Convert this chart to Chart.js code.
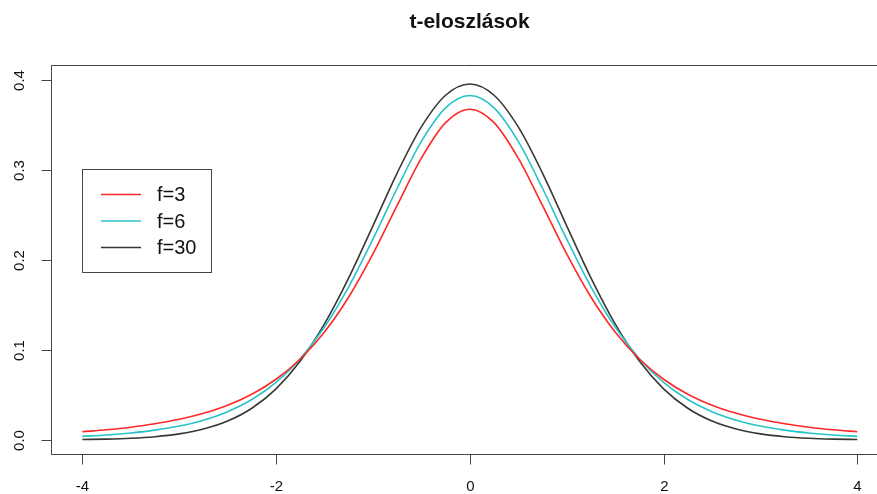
<!DOCTYPE html>
<html>
<head>
<meta charset="utf-8">
<script src="https://cdn.jsdelivr.net/npm/chart.js@4/dist/chart.umd.min.js"></script>
<style>
  html, body { margin: 0; padding: 0; background: #fff; overflow: hidden; }
  canvas { display: block; }
</style>
</head>
<body>
<canvas id="c" width="877" height="494"></canvas>
<script>
const xs = [-4, -3.75, -3.5, -3.25, -3, -2.75, -2.5, -2.25, -2, -1.75, -1.5, -1.25, -1, -0.75, -0.5, -0.25,
  0, 0.25, 0.5, 0.75, 1, 1.25, 1.5, 1.75, 2, 2.25, 2.5, 2.75, 3, 3.25, 3.5, 3.75, 4];
const f3 = [0.00916, 0.01136, 0.01422, 0.01798, 0.02297, 0.02965, 0.03866, 0.05089, 0.06751, 0.09000, 0.12002, 0.15891, 0.20675, 0.26064, 0.31318, 0.35270,
  0.36755, 0.35270, 0.31318, 0.26064, 0.20675, 0.15891, 0.12002, 0.09000, 0.06751, 0.05089, 0.03866, 0.02965, 0.02297, 0.01798, 0.01422, 0.01136, 0.00916];
const f6 = [0.00406, 0.00560, 0.00780, 0.01095, 0.01549, 0.02205, 0.03149, 0.04497, 0.06403, 0.09038, 0.12555, 0.17026, 0.22315, 0.27971, 0.33177, 0.36910,
  0.38273, 0.36910, 0.33177, 0.27971, 0.22315, 0.17026, 0.12555, 0.09038, 0.06403, 0.04497, 0.03149, 0.02205, 0.01549, 0.01095, 0.00780, 0.00560, 0.00406];
const f30 = [0.00052, 0.00102, 0.00196, 0.00369, 0.00678, 0.01213, 0.02106, 0.03530, 0.05685, 0.08769, 0.12896, 0.18011, 0.23799, 0.29664, 0.34787, 0.38307,
  0.39563, 0.38307, 0.34787, 0.29664, 0.23799, 0.18011, 0.12896, 0.08769, 0.05685, 0.03530, 0.02106, 0.01213, 0.00678, 0.00369, 0.00196, 0.00102, 0.00052];
const labels = ['f=3', 'f=6', 'f=30'];
const xTicks = [-4, -2, 0, 2, 4];
const yTicks = [0, 0.1, 0.2, 0.3, 0.4];
const title = 't-eloszlások';

const colors = ['rgb(255,40,40)', 'rgb(40,195,200)', 'rgb(55,55,55)'];
const pts = ys => xs.map((x, i) => ({ x: x, y: ys[i] }));

// R style box (right side is off the page), ticks and legend
const axesPlugin = {
  id: 'rAxes',
  afterDraw(chart) {
    const ctx = chart.ctx;
    const a = chart.chartArea;
    const sx = chart.scales.x, sy = chart.scales.y;
    const L = Math.round(a.left) + 0.5, T = Math.round(a.top) + 0.5, B = Math.round(a.bottom) + 0.5;
    const R = chart.width;
    ctx.save();
    ctx.strokeStyle = '#444';
    ctx.lineWidth = 1;
    ctx.beginPath();
    ctx.moveTo(L, T); ctx.lineTo(R, T);
    ctx.moveTo(L, T); ctx.lineTo(L, B);
    ctx.moveTo(L, B); ctx.lineTo(R, B);
    ctx.stroke();

    ctx.fillStyle = '#111';
    ctx.font = '15px "Liberation Sans", Arial, sans-serif';
    ctx.textAlign = 'center';
    ctx.textBaseline = 'middle';
    xTicks.forEach(v => {
      const px = Math.round(sx.getPixelForValue(v)) + 0.5;
      ctx.beginPath();
      ctx.moveTo(px, B);
      ctx.lineTo(px, B + 10);
      ctx.stroke();
      ctx.fillText(String(v), px, 487);
    });
    yTicks.forEach(v => {
      const py = Math.round(sy.getPixelForValue(v)) + 0.5;
      ctx.beginPath();
      ctx.moveTo(L, py);
      ctx.lineTo(L - 10, py);
      ctx.stroke();
      ctx.save();
      ctx.translate(20, py);
      ctx.rotate(-Math.PI / 2);
      ctx.fillText(v.toFixed(1), 0, 0);
      ctx.restore();
    });

    ctx.font = 'bold 21px "Liberation Sans", Arial, sans-serif';
    ctx.fillText(title, 469.5, 22);

    ctx.strokeStyle = '#444';
    ctx.strokeRect(82.5, 169.5, 129, 103);
    ctx.font = '20px "Liberation Sans", Arial, sans-serif';
    ctx.textAlign = 'left';
    const rows = [194.5, 221, 247.5];
    chart.data.datasets.forEach((ds, i) => {
      ctx.strokeStyle = ds.borderColor;
      ctx.lineWidth = 1.4;
      ctx.beginPath();
      ctx.moveTo(101, rows[i]);
      ctx.lineTo(141, rows[i]);
      ctx.stroke();
      ctx.fillText(ds.label, 157, rows[i] + 1);
    });
    ctx.restore();
  }
};

new Chart(document.getElementById('c'), {
  type: 'line',
  data: {
    datasets: labels.map((l, i) => ({
      label: l,
      data: pts([f3, f6, f30][i]),
      borderColor: colors[i],
      borderWidth: 1.6,
      pointRadius: 0,
      fill: false,
      cubicInterpolationMode: 'monotone'
    }))
  },
  options: {
    responsive: false,
    animation: false,
    layout: { padding: { left: 51, top: 65, right: 0, bottom: 40 } },
    plugins: { legend: { display: false }, title: { display: false }, tooltip: { enabled: false } },
    scales: {
      x: { type: 'linear', min: -4.323, max: 4.203, display: false, grid: { display: false }, border: { display: false } },
      y: { type: 'linear', min: -0.01556, max: 0.41667, display: false, grid: { display: false }, border: { display: false } }
    }
  },
  plugins: [axesPlugin]
});
</script>
</body>
</html>
